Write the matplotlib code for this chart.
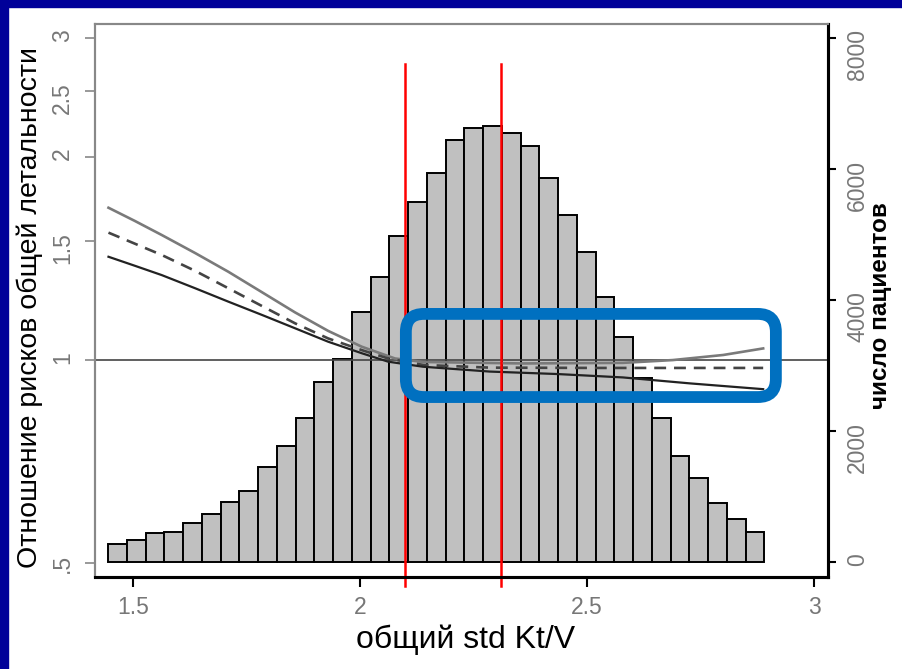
import numpy as np
import matplotlib
matplotlib.use('Agg')
import matplotlib.pyplot as plt
from matplotlib.patches import Rectangle, FancyBboxPatch

plt.rcParams['font.family'] = ['Liberation Sans', 'DejaVu Sans']

#%% data
# histogram of std Kt/V (number of patients per bin)
bin_start = 1.445
bin_width = 0.0413
counts = [275, 336, 443, 458, 595, 733, 916, 1084, 1450, 1771,
          2198, 2748, 3099, 3817, 4351, 4977, 5496, 5939, 6443, 6626,
          6656, 6550, 6351, 5863, 5298, 4733, 4046, 3435, 2809, 2198,
          1618, 1282, 901, 656, 458]

# hazard ratio curves (upper limit, estimate, lower limit)
x_upper = [1.446, 1.504, 1.563, 1.637, 1.710, 1.784, 1.857, 1.930, 2.004, 2.077,
           2.139, 2.359, 2.579, 2.689, 2.800, 2.888]
hr_upper = [1.681, 1.607, 1.532, 1.440, 1.351, 1.260, 1.176, 1.104, 1.046, 1.005,
            0.993, 0.988, 0.990, 0.9995, 1.017, 1.040]
x_est = [1.446, 1.504, 1.563, 1.637, 1.710, 1.784, 1.857, 1.930, 2.004, 2.062,
         2.139, 2.286, 2.529, 2.888]
hr_est = [1.544, 1.487, 1.431, 1.355, 1.277, 1.202, 1.133, 1.076, 1.034, 1.005,
          0.983, 0.974, 0.973, 0.973]
x_lower = [1.446, 1.504, 1.563, 1.637, 1.710, 1.784, 1.857, 1.930, 2.004, 2.062,
           2.139, 2.286, 2.434, 2.579, 2.727, 2.888]
hr_lower = [1.422, 1.379, 1.336, 1.277, 1.220, 1.166, 1.114, 1.064, 1.023, 0.994,
            0.977, 0.961, 0.953, 0.942, 0.923, 0.905]

# marked range of Kt/V
kt_marks = [2.1, 2.31]
# highlighted region (Kt/V, HR)
box_x = [2.101, 2.916]
box_hr = [0.881, 1.17]

x_ticks = [1.5, 2, 2.5, 3]
x_ticklabels = ['1.5', '2', '2.5', '3']
hr_ticks = [0.5, 1, 1.5, 2, 2.5, 3]
hr_ticklabels = ['.5', '1', '1.5', '2', '2.5', '3']
n_ticks = [0, 2000, 4000, 6000, 8000]

#%% figure
fig = plt.figure(figsize=(9.02, 6.69), dpi=100)
fig.patch.set_facecolor('white')
# dark blue slide border (left and top)
fig.patches.append(Rectangle((0, 0), 8/902, 1, transform=fig.transFigure,
                             color='#000099', zorder=0))
fig.patches.append(Rectangle((0, 1 - 7/669), 1, 7/669, transform=fig.transFigure,
                             color='#000099', zorder=0))

ax = fig.add_axes([95/902, 92/669, 733/902, 553/669])
ax2 = ax.twinx()

# histogram on the count axis (drawn below)
edges = bin_start + bin_width*np.arange(len(counts) + 1)
ax.bar(edges[:-1], counts, width=bin_width, align='edge',
       color='#c0c0c0', edgecolor='black', linewidth=1.4)
ax.set_ylim(-230, 8215)
ax.set_xlim(1.4163, 3.0308)

# hazard ratio on log axis
ax2.set_yscale('log')
ax2.set_ylim(0.4767, 3.147)
ax2.axhline(1, color='#444444', lw=1.2)
ax2.plot(x_upper, hr_upper, color='#7a7a7a', lw=1.9)
ax2.plot(x_est, hr_est, color='#444444', lw=1.9, dashes=(4.5, 3))
ax2.plot(x_lower, hr_lower, color='#222222', lw=1.6)

for k in kt_marks:
    ax2.axvline(k, ymin=-0.016, ymax=0.928, color='red', lw=1.8, clip_on=False)

# swap sides: hazard ratio on the left, counts on the right
ax2.yaxis.tick_left()
ax.yaxis.tick_right()

ax2.set_yticks(hr_ticks)
ax2.set_yticklabels(hr_ticklabels)
ax2.yaxis.set_minor_locator(matplotlib.ticker.NullLocator())
ax2.tick_params(axis='y', labelrotation=90, length=7, width=1.2, color='#888888',
                labelcolor='#777777', labelsize=16.5, pad=8)
ax.set_yticks(n_ticks)
ax.tick_params(axis='y', labelrotation=90, length=6, width=1.5, color='black',
               labelcolor='#777777', labelsize=16.5, pad=7)
ax.set_xticks(x_ticks)
ax.set_xticklabels(x_ticklabels)
ax.tick_params(axis='x', length=7, width=1.5, color='black',
               labelcolor='#777777', labelsize=16.5, pad=7)

for a in (ax, ax2):
    a.spines['left'].set_color('#888888')
    a.spines['left'].set_linewidth(1.5)
    a.spines['top'].set_color('#888888')
    a.spines['top'].set_linewidth(1.5)
    a.spines['bottom'].set_linewidth(2.2)
    a.spines['right'].set_linewidth(2.2)

# blue rounded frame (pixel rounding, so built in display coords)
p0 = ax2.transData.transform((box_x[0], box_hr[0]))
p1 = ax2.transData.transform((box_x[1], box_hr[1]))
frame = FancyBboxPatch((p0[0], p0[1]), p1[0]-p0[0], p1[1]-p0[1],
                       boxstyle='round,pad=0,rounding_size=18',
                       transform=None, facecolor='none',
                       edgecolor='#0070C0', linewidth=8.5, zorder=10)
fig.patches.append(frame)

# axis titles
fig.text(30/902, 1 - 307/669, 'Отношение рисков общей летальности',
         rotation=90, ha='center', va='center', fontsize=20.5, color='black')
fig.text(880/902, 1 - 306/669, 'число пациентов', rotation=90,
         ha='center', va='center', fontsize=17.5, fontweight='bold', color='black')
fig.text(466/902, 1 - 640/669, 'общий std Kt/V', ha='center', va='center',
         fontsize=23, color='black')

fig.savefig('out.png', dpi=100)
